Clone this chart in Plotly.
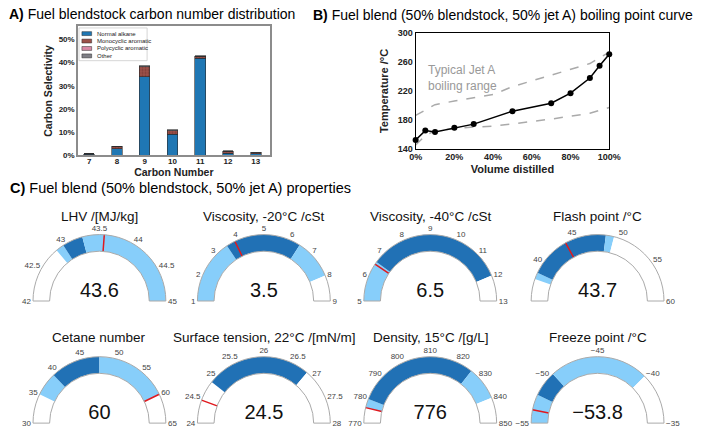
import plotly.graph_objects as go

W, H = 702, 433
FONT = "Arial, 'Liberation Sans', sans-serif"

# ---------------- Panel A data ----------------
carbon_numbers = [7, 8, 9, 10, 11, 12, 13]
normal_alkane = [0.6, 2.9, 33.8, 9.2, 41.8, 0.9, 0.7]
monocyclic_aromatic = [0.2, 1.0, 4.4, 1.5, 0.8, 0.9, 0.5]
polycyclic_aromatic = [0.0, 0.0, 0.0, 0.0, 0.0, 0.0, 0.0]
other = [0.0, 0.1, 0.5, 0.4, 0.3, 0.2, 0.2]
selectivity_ticks = [0, 10, 20, 30, 40, 50]

# ---------------- Panel B data ----------------
volume_distilled = [0, 5, 10, 20, 30, 50, 70, 80, 90, 95, 100]
boiling_temp = [152, 165, 163, 169, 174, 192, 203, 217, 238, 255, 271]
jet_a_upper_x = [0, 10, 20, 30, 40, 50, 60, 70, 80, 90, 100]
jet_a_upper = [186, 201, 206, 211, 215, 226, 234, 241, 249, 258, 274]
jet_a_lower_x = [0, 5, 10, 20, 30, 40, 50, 60, 70, 80, 90, 100]
jet_a_lower = [145, 158, 165, 168, 170, 171, 174, 177, 181, 185, 189, 197]
volume_ticks = [0, 20, 40, 60, 80, 100]
temp_ticks = [140, 180, 220, 260, 300]

# ---------------- Panel C data ----------------
gauge_titles = ["LHV /[MJ/kg]", "Viscosity, -20°C /cSt", "Viscosity, -40°C /cSt",
                "Flash point /°C", "Cetane number", "Surface tension, 22°C /[mN/m]",
                "Density, 15°C /[g/L]", "Freeze point /°C"]
gauge_values = [43.6, 3.5, 6.5, 43.7, 60, 24.5, 776, -53.8]
marker_positions = [43.57, 3.85, 6.5, 43.5, 60, 24.45, 776, -53.7]
gauge_ranges = [[42, 45], [1, 9], [5, 13], [35, 60], [30, 65], [24, 28], [770, 850], [-55, -35]]
gauge_ticks = [
    [42, 42.5, 43, 43.5, 44, 44.5, 45],
    [1, 2, 3, 4, 5, 6, 7, 8, 9],
    [5, 6, 7, 8, 9, 10, 11, 12, 13],
    [40, 45, 50, 55, 60],
    [30, 35, 40, 45, 50, 55, 60, 65],
    [24, 24.5, 25, 25.5, 26, 26.5, 27, 27.5, 28],
    [770, 780, 790, 800, 810, 820, 830, 840, 850],
    [-55, -50, -45, -40, -35],
]
# bands: (start, end, kind)  W = white, L = light blue, D = dark blue
gauge_bands = [
    [(42, 42.83, "W"), (42.83, 42.95, "L"), (42.95, 43.25, "D"), (43.25, 45, "L")],
    [(1, 3.5, "L"), (3.5, 6.45, "D"), (6.45, 8, "L"), (8, 9, "W")],
    [(5, 6.6, "L"), (6.6, 12, "D"), (12, 13, "W")],
    [(35, 37.7, "W"), (37.7, 38.5, "L"), (38.5, 48.5, "D"), (48.5, 49.5, "L"), (49.5, 60, "W")],
    [(30, 35, "W"), (35, 39, "L"), (39, 47.5, "D"), (47.5, 60, "L"), (60, 65, "W")],
    [(24, 24.85, "W"), (24.85, 26.9, "D"), (26.9, 28, "W")],
    [(770, 776, "W"), (776, 779.5, "L"), (779.5, 827, "D"), (827, 840, "L"), (840, 850, "W")],
    [(-55, -52.2, "L"), (-52.2, -49.7, "D"), (-49.7, -40, "L"), (-40, -35, "W")],
]

band_colors = {"W": "white", "L": "#87cefa", "D": "#2171b5"}


def px(x):
    return x / W


def py(y):
    return 1 - y / H


def fmt(v):
    return f"{v:g}".replace("-", "\u2212")


fig = go.Figure()

# ---------------- Panel A ----------------
series_names = ["Normal alkane", "Monocyclic aromatic", "Polycyclic aromatic", "Other"]
series_values = [normal_alkane, monocyclic_aromatic, polycyclic_aromatic, other]
series_colors = ["#1f77b4", "#9c5149", "#d98aa6", "#7f7f86"]
series_fg = ["#1f77b4", "#5e2a26", "#f2c2d4", "#4d4d55"]
series_patterns = ["", ".", "-", "."]

for name, vals, col, fg, pat in zip(series_names, series_values, series_colors, series_fg, series_patterns):
    marker = dict(color=col, line=dict(color="#2b2b2b", width=0.6))
    if pat:
        marker["pattern"] = dict(shape=pat, bgcolor=col, fgcolor=fg, size=3, solidity=0.35)
    fig.add_trace(go.Bar(x=carbon_numbers, y=vals, name=name, marker=marker, width=0.38,
                         xaxis="x", yaxis="y", showlegend=False))

# manual compact legend
leg_x0, leg_y0, leg_step = 74, 29.3, 7.6
fig.add_shape(type="rect", xref="paper", yref="paper", x0=px(leg_x0), x1=px(leg_x0 + 70),
              y0=py(23.5), y1=py(57), line=dict(color="#cccccc", width=0.8), fillcolor="white")
for k, (name, col) in enumerate(zip(series_names, series_colors)):
    yc = leg_y0 + k * leg_step
    fig.add_shape(type="rect", xref="paper", yref="paper", x0=px(leg_x0 + 3), x1=px(leg_x0 + 13),
                  y0=py(yc + 2), y1=py(yc - 2), fillcolor=col, line=dict(color="#2b2b2b", width=0.5))
    fig.add_annotation(text=name, xref="paper", yref="paper", x=px(leg_x0 + 16), y=py(yc),
                       xanchor="left", yanchor="middle", showarrow=False,
                       font=dict(size=6, color="#222", family=FONT))

# ---------------- Panel B ----------------
for xs, ys in [(jet_a_upper_x, jet_a_upper), (jet_a_lower_x, jet_a_lower)]:
    fig.add_trace(go.Scatter(x=xs, y=ys, mode="lines", line=dict(color="#aaaaaa", width=1.5, dash="dash"),
                             xaxis="x2", yaxis="y2", showlegend=False, cliponaxis=False))
fig.add_trace(go.Scatter(x=volume_distilled, y=boiling_temp, mode="lines+markers",
                         line=dict(color="black", width=1.5), marker=dict(color="black", size=6),
                         xaxis="x2", yaxis="y2", showlegend=False, cliponaxis=False))
fig.add_annotation(text="Typical Jet A<br>boiling range", xref="x2", yref="y2", x=5.2, y=238,
                   xanchor="left", yanchor="middle", align="left", showarrow=False,
                   font=dict(size=12, color="#999999", family=FONT))

# ---------------- Panel C ----------------
gauge_cx = [95, 264, 435, 607]
gauge_bottom = [303, 428]
gauge_title_y = [216, 340]
R = 68
for i in range(8):
    row, col = divmod(i, 4)
    cx, bottom = gauge_cx[col], gauge_bottom[row]
    steps = [dict(range=[a, b], color=band_colors[c], thickness=1, line=dict(width=0))
             for a, b, c in gauge_bands[i]]
    fig.add_trace(go.Indicator(
        mode="gauge+number", value=gauge_values[i],
        domain=dict(x=[px(cx - 80), px(cx + 80)], y=[py(bottom), py(bottom - R)]),
        number=dict(font=dict(size=20, color="#111", family=FONT)),
        gauge=dict(
            shape="angular",
            axis=dict(range=gauge_ranges[i], tickmode="array", tickvals=gauge_ticks[i],
                      ticktext=[fmt(v) for v in gauge_ticks[i]], ticks="",
                      tickfont=dict(size=8, color="#444", family=FONT)),
            bar=dict(color="rgba(0,0,0,0)", thickness=0, line=dict(width=0)),
            bgcolor="white", bordercolor="#aaaaaa", borderwidth=1,
            steps=steps,
            threshold=dict(line=dict(color="#e0191e", width=1.5), thickness=1, value=marker_positions[i]),
        )))
    fig.add_annotation(text=gauge_titles[i], xref="paper", yref="paper", x=px(cx),
                       y=py(gauge_title_y[row]), xanchor="center", yanchor="middle", showarrow=False,
                       font=dict(size=13.5, color="#111", family=FONT))

# ---------------- Titles ----------------
titles = [
    ("<b>A)</b> Fuel blendstock carbon number distribution", 0, 9, 14),
    ("<b>B)</b> Fuel blend (50% blendstock, 50% jet A) boiling point curve", 312, 10, 14),
    ("<b>C)</b> Fuel blend (50% blendstock, 50% jet A) properties", 1, 187, 14.5),
]
for text, x, y, size in titles:
    fig.add_annotation(text=text, xref="paper", yref="paper", x=px(x), y=py(y), xanchor="left",
                       yanchor="middle", showarrow=False, font=dict(size=size, color="black", family=FONT))

bold_tick = dict(size=8, color="#222", family=FONT, weight="bold")
fig.update_layout(
    width=W, height=H, margin=dict(l=0, r=0, t=0, b=0),
    paper_bgcolor="white", plot_bgcolor="white",
    font=dict(family=FONT),
    barmode="stack",
    xaxis=dict(domain=[px(73), px(270)], range=[6.6, 13.5], tickmode="array", tickvals=carbon_numbers,
               ticks="", ticklabelstandoff=-3, showline=True, mirror=True,
               linecolor="#8c8c8c", linewidth=1.5, showgrid=False, zeroline=False,
               tickfont=bold_tick,
               title=dict(text="<b>Carbon Number</b>", font=dict(size=10.5, color="#222"), standoff=1)),
    yaxis=dict(domain=[py(154), py(22)], range=[0, 55.5], tickmode="array", tickvals=selectivity_ticks,
               ticktext=[f"{v}%" for v in selectivity_ticks], ticks="", showline=True, mirror=True,
               linecolor="#8c8c8c", linewidth=1.5, showgrid=False, zeroline=False,
               tickfont=bold_tick,
               title=dict(text="<b>Carbon Selectivity</b>", font=dict(size=10.5, color="#222"), standoff=4)),
    xaxis2=dict(domain=[px(420), px(619)], range=[0, 100], tickmode="array", tickvals=volume_ticks,
                ticktext=[f"{v}%" for v in volume_ticks], ticks="", showline=True, mirror=True,
                linecolor="black", linewidth=1,
                showgrid=False, zeroline=False, anchor="y2",
                tickfont=dict(size=9, color="#222", family=FONT, weight="bold"),
                title=dict(text="<b>Volume distilled</b>", font=dict(size=11, color="#222"), standoff=3)),
    yaxis2=dict(domain=[py(147), py(29)], range=[140, 300], tickmode="array", tickvals=temp_ticks,
                ticks="", showline=True, mirror=True, linecolor="black", linewidth=1,
                showgrid=False, zeroline=False, anchor="x2",
                tickfont=dict(size=9, color="#222", family=FONT, weight="bold"),
                title=dict(text="<b>Temperature /°C</b>", font=dict(size=11, color="#222"), standoff=6)),
)

fig.write_html("out.html", config={"displayModeBar": False},
               post_script="document.body.style.margin='0';")
